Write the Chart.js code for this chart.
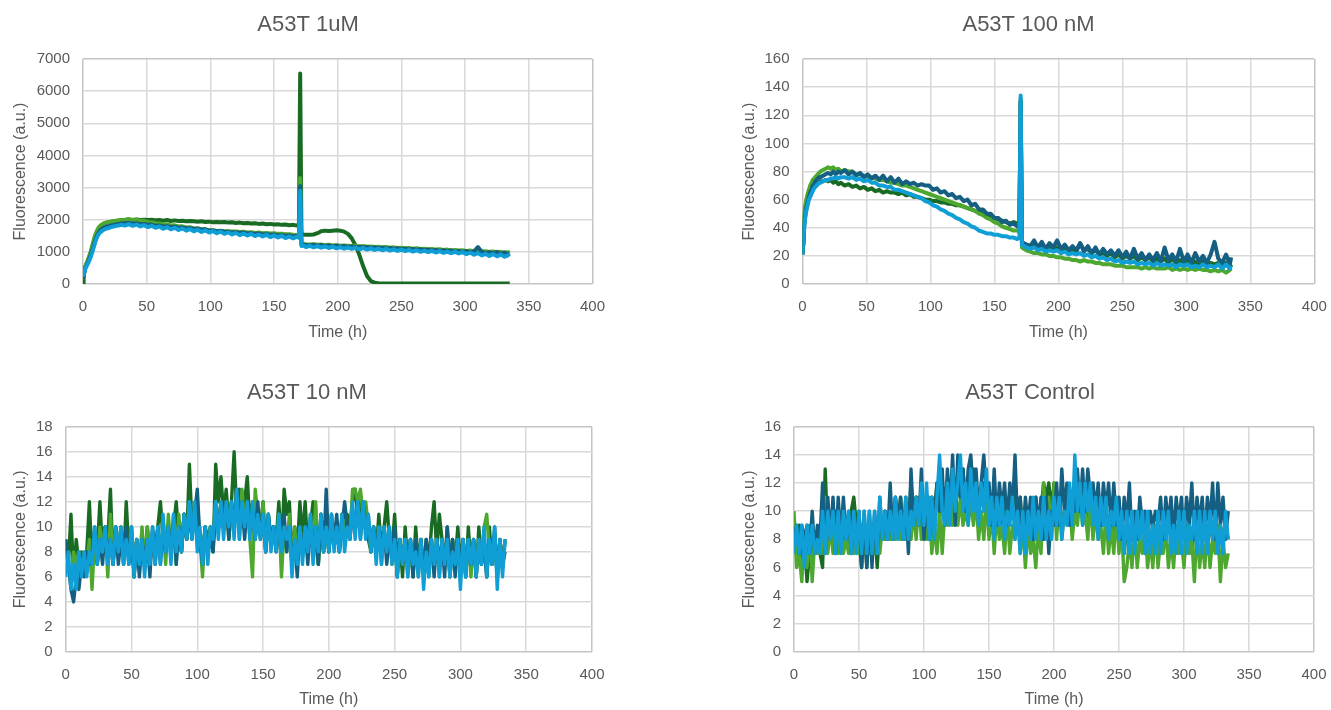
<!DOCTYPE html>
<html><head><meta charset="utf-8">
<script src="https://cdn.jsdelivr.net/npm/chart.js@4.4.1/dist/chart.umd.min.js"></script>
<style>
html,body{margin:0;padding:0;background:#fff;width:1331px;height:710px;overflow:hidden;position:relative}
.box{position:absolute}
</style></head><body>
<div class="box" style="left:0;top:0;width:616px;height:355px"><canvas id="c1"></canvas></div>
<div class="box" style="left:729px;top:0;width:599px;height:355px"><canvas id="c2"></canvas></div>
<div class="box" style="left:0;top:360px;width:614px;height:350px"><canvas id="c3"></canvas></div>
<div class="box" style="left:729px;top:360px;width:602px;height:350px"><canvas id="c4"></canvas></div>
<script>
// ---------- DATA ----------
const seriesNames = ['Series 1', 'Series 2', 'Series 3', 'Series 4'];
const chartTitles = ['A53T 1uM', 'A53T 100 nM', 'A53T 10 nM', 'A53T Control'];
const xTicks = [0, 50, 100, 150, 200, 250, 300, 350, 400];

const timeTop = [0,0.5,1,1.5,2,3,4,5,6,7,8,9,10,11,12,13,14,16,18,20,22,24,26,28,30,
 33,36,39,42,45,48,51,54,57,60,63,66,69,72,75,78,81,84,87,90,93,96,99,102,105,108,111,114,117,120,123,126,129,132,135,138,141,144,147,150,153,156,159,162,165,168,
 169.5,170.5,171.5,173,175,
 178,181,184,187,190,193,196,199,202,205,208,211,214,217,220,223,226,229,232,235,238,241,244,247,250,253,256,259,262,265,268,271,274,277,280,283,286,289,292,295,298,301,304,307,310,313,316,319,322,325,328,331,334,
 335];

const uM1_dkGreen = [0,350,430,500,560,650,740,850,970,1100,1250,1400,1520,1620,1700,1760,1810,1870,1900,1920,1940,1950,1960,1970,1980,
 1990,2000,1990,2010,1990,2000,1990,2000,1980,1990,1970,1990,1960,1980,1960,1970,1950,1960,1950,1940,1950,1930,1940,1920,1930,1920,1930,1910,1920,1900,1910,1890,1900,1880,1890,1870,1880,1860,1870,1850,1860,1840,1850,1830,1840,1820,
 1810,6550,1560,1540,1530,
 1530,1540,1580,1640,1660,1650,1660,1670,1660,1630,1560,1420,1200,900,550,250,90,40,25,15,
 12,15,12,14,12,15,13,12,14,12,15,12,13,12,14,12,15,12,13,12,14,12,15,12,13,12,14,12,15,12,13,12,14,
 12];
const uM1_ltGreen = [200,330,420,500,560,660,760,880,1000,1150,1300,1450,1570,1660,1740,1790,1830,1880,1910,1920,1940,1950,1970,1980,1990,
 2000,2020,1990,2000,1970,1965,1930,1925,1890,1885,1860,1855,1820,1825,1790,1795,1760,1765,1730,1735,1700,1705,1670,1675,1650,1660,1640,1645,1630,1635,1620,1625,1600,1610,1590,1600,1580,1590,1570,1580,1560,1565,1550,1550,1530,1525,
 1510,3300,1260,1250,1240,
 1230,1240,1220,1230,1210,1220,1200,1210,1190,1200,1190,1180,1190,1170,1180,1160,1170,1150,1160,1140,1150,1130,1140,1120,1130,1110,1120,1100,1110,1090,1100,1080,1090,1070,1080,1060,1070,1050,1060,1040,1050,1030,1040,1020,1030,1010,1020,1000,1010,990,1000,980,990,
 970];
const uM1_dkBlue = [220,300,380,440,500,590,680,780,890,1010,1140,1280,1400,1500,1580,1640,1690,1740,1780,1800,1820,1840,1850,1870,1880,
 1890,1900,1880,1890,1860,1870,1840,1850,1810,1820,1790,1800,1770,1780,1750,1760,1730,1740,1710,1720,1690,1700,1660,1670,1640,1650,1620,1630,1600,1610,1590,1600,1570,1580,1560,1570,1540,1550,1530,1540,1510,1520,1500,1510,1480,1490,
 1480,3050,1230,1220,1210,
 1200,1220,1190,1210,1180,1200,1170,1190,1160,1180,1150,1170,1140,1160,1130,1150,1120,1140,1110,1130,1100,1120,1090,1110,1080,1100,1070,1090,1060,1080,1050,1070,1040,1060,1030,1050,1020,1040,1000,1030,990,1020,980,1010,1150,1000,960,990,950,1000,930,980,920,
 940];
const uM1_ltBlue = [280,330,400,450,500,570,650,730,830,950,1080,1220,1350,1450,1530,1580,1620,1680,1720,1740,1770,1790,1810,1820,1840,
 1820,1860,1810,1850,1790,1830,1770,1810,1750,1790,1720,1770,1700,1750,1680,1730,1660,1710,1640,1690,1620,1670,1600,1650,1580,1630,1560,1610,1540,1590,1520,1570,1510,1560,1490,1540,1480,1530,1460,1510,1450,1500,1430,1480,1420,1470,
 1440,2900,1180,1200,1150,
 1190,1140,1180,1130,1170,1120,1160,1110,1150,1100,1140,1090,1130,1080,1120,1070,1110,1060,1100,1050,1090,1040,1080,1030,1070,1020,1060,1010,1050,1000,1040,990,1030,980,1020,970,1010,960,1000,950,990,930,980,910,960,890,940,870,930,860,920,850,900,
 880];

const nM100_dkGreen = [21,32,40,46,50,55,59,62,64,66,68,69,70,71,72,72,73,73,74,73,74,72,73,71,72,
 70,71,69,70,68,69,67,68,66,67,65,66,65,65,64,65,63,64,62,62,61,60,60,59,59,58,58,57,57,56,56,55,54,53,52,51,50,49,48,47,46,45,44,43,44,43,
 41,130,29,28,28,
 27,28,26,27,25,27,24,26,24,25,23,25,23,29,24,25,22,24,21,22,20,22,19,21,18,20,18,20,17,19,17,19,16,18,16,18,15,18,15,17,14,17,14,16,14,16,13,15,14,15,13,15,12,
 14];
const nM100_ltGreen = [22,36,46,52,55,60,64,67,70,72,74,75,76,77,78,79,80,81,82,83,82,83,81,82,80,
 81,80,80,78,78,77,76,76,75,74,74,73,72,72,71,70,70,69,68,67,66,65,64,63,62,61,60,59,58,57,56,55,54,53,52,50,49,47,46,44,43,41,40,39,38,38,
 37,132,26,25,24,
 23,22,22,21,21,20,20,19,19,18,18,17,17,16,17,16,16,15,15,14,14,14,13,13,13,12,12,12,12,11,12,11,12,11,11,11,12,10,11,10,11,10,11,10,11,10,10,9,10,9,10,8,10,
 9];
const nM100_dkBlue = [21,30,38,44,48,54,58,62,65,67,70,71,73,74,75,76,76,77,78,79,78,80,78,80,79,
 81,78,80,77,79,76,78,75,77,74,77,73,76,72,75,71,73,71,72,70,71,70,70,67,68,65,66,63,64,61,62,59,60,56,57,53,53,50,50,47,47,44,45,42,43,41,
 40,130,30,29,28,
 27,31,26,30,25,29,26,31,25,28,24,27,24,29,23,27,22,26,21,25,21,24,20,24,19,23,18,25,18,22,17,21,17,22,16,26,17,21,16,25,16,21,15,22,16,20,15,21,30,18,15,21,14,
 19];
const nM100_ltBlue = [21,28,35,41,46,52,56,60,62,64,66,68,69,70,71,72,72,73,74,74,75,75,76,75,76,
 76,75,76,74,75,73,74,72,72,70,70,69,69,67,67,66,65,64,63,62,61,59,58,56,55,53,52,50,49,47,46,44,43,41,40,38,37,36,36,35,35,34,34,33,33,32,
 33,134,28,27,26,
 25,26,24,25,23,24,23,24,22,23,21,22,21,22,20,21,19,20,18,19,17,18,16,17,15,16,15,16,14,15,14,15,13,15,13,14,13,14,12,14,13,14,12,13,12,14,12,13,12,14,11,14,11,
 13];

const timeBottom = [0,2,4,6,8,10,12,14,16,18,20,22,24,26,28,30,32,34,36,38,40,42,44,46,48,50,52,54,56,58,
 60,62,64,66,68,70,72,74,76,78,80,82,84,86,88,90,92,94,96,98,100,102,104,106,108,110,112,114,116,118,
 120,122,124,126,128,130,132,134,136,138,140,142,144,146,148,150,152,154,156,158,160,162,164,166,168,170,172,174,176,178,
 180,182,184,186,188,190,192,194,196,198,200,202,204,206,208,210,212,214,216,218,220,222,224,226,228,230,232,234,236,238,
 240,242,244,246,248,250,252,254,256,258,260,262,264,266,268,270,272,274,276,278,280,282,284,286,288,290,292,294,296,298,
 300,302,304,306,308,310,312,314,316,318,320,322,324,326,328,330,332,334];

const nM10_dkGreen = [9,7,11,6,9,7,8,7,8,12, 7,9,8,12,8,10,9,13,7,10, 8,10,7,12,8,10,6,9,7,9, 7,10,8,9,7,10,12,9,8,10,
 8,10,12,9,8,11,9,15,10,11, 10,9,8,10,9,10,8,15,12,14, 11,13,10,12,16,11,13,10,12,14, 10,12,9,11,10,12,8,11,9,10,
 9,12,8,13,11,12,7,10,8,12, 9,12,8,10,12,9,7,11,8,10, 8,11,9,10,8,11,9,11,10,12, 13,11,12,10,11,9,8,10,8,11,
 8,10,12,9,8,11,7,9,6,10, 7,9,6,10,7,9,6,9,7,10, 12,8,11,9,7,10,6,9,7,10, 7,9,6,10,7,9,6,10,7,9, 6,10,7,9,6,9,7,9];
const nM10_ltGreen = [8,7,6,8,7,8,6,8,7,9, 5,9,7,10,8,10,6,11,7,10, 8,10,7,9,8,10,7,9,7,10, 7,10,8,9,7,10,8,10,7,11,
 8,10,7,11,8,11,9,12,10,11, 12,9,6,10,8,10,9,12,10,12, 10,12,9,12,10,12,9,13,10,12, 9,6,13,11,9,12,8,11,9,10,
 8,11,6,10,8,11,7,10,7,10, 8,10,8,11,8,12,7,10,8,10, 8,11,9,10,8,11,9,10,9,13, 13,12,13,11,12,10,8,10,8,10,
 7,10,8,10,7,9,6,9,7,9, 6,9,7,9,6,9,7,8,6,9, 7,9,6,9,7,9,6,9,7,9, 6,9,7,9,6,9,7,9,7,10, 11,8,7,9,6,9,7,9];
const nM10_dkBlue = [9,7,5,4,6,5,7,6,8,7, 8,10,7,9,7,10,8,9,7,10, 7,9,8,10,7,9,6,9,6,9, 7,9,6,10,8,10,7,10,8,10,
 8,11,7,10,8,11,9,11,9,11, 13,9,7,10,8,9,8,11,10,12, 10,12,9,12,10,13,10,12,9,12, 10,11,9,12,9,11,8,11,9,10,
 8,10,9,11,8,10,7,9,6,10, 8,10,7,10,8,10,7,11,8,13, 8,10,9,11,8,10,12,10,9,11, 10,12,9,12,10,11,8,10,8,10,
 8,10,7,9,8,10,6,9,7,9, 7,9,6,9,7,9,6,9,7,9, 6,9,7,9,6,10,7,9,6,9, 7,9,6,9,7,9,6,9,7,9, 6,9,7,10,6,9,7,8];
const nM10_ltBlue = [6,8,5,7,5,8,6,8,6,8, 7,10,7,9,8,10,7,9,7,10, 8,10,7,9,7,10,6,9,7,9, 6,9,7,10,7,10,7,11,8,10,
 7,11,8,10,8,11,9,12,9,12, 8,10,7,10,7,10,9,12,9,12, 9,12,10,12,9,13,9,12,10,12, 9,12,9,11,9,11,8,11,8,10,
 8,11,8,10,9,10,6,9,7,10, 7,10,8,11,7,10,8,11,8,10, 8,11,8,10,8,11,8,10,9,12, 9,12,9,12,9,11,8,10,7,10,
 7,10,8,10,7,9,6,9,7,9, 6,9,7,8,6,9,5,8,6,9, 7,9,6,9,7,9,6,8,7,9, 5,9,6,9,7,9,6,9,7,10, 6,9,7,10,5,9,6,9];

const ctrl_dkGreen = [8,7,9,6,8,5,7,8,7,8, 7,6,13,8,9,8,10,8,9,8, 9,8,10,11,9,8,6,9,6,9, 7,9,6,9,8,10,8,10,9,11,
 9,11,8,10,9,12,10,11,10,11, 9,10,9,11,10,12,10,12,10,12, 11,13,10,12,11,13,10,12,11,13, 12,10,11,12,10,11,9,11,9,10,
 9,11,9,11,10,12,9,11,8,10, 9,10,9,11,8,10,12,11,12,10, 12,9,11,9,10,10,11,9,11,10, 11,10,12,9,11,9,10,9,10,9,
 10,9,10,8,10,8,9,7,9,8, 9,7,9,8,10,8,9,7,9,8, 9,7,9,8,10,8,9,7,9,8, 9,8,9,7,9,8,9,8,9,8, 9,8,9,7,9,8,9,8];
const ctrl_ltGreen = [10,6,7,5,8,6,9,5,8,7, 8,7,11,7,9,7,8,7,9,7, 8,7,9,7,8,7,9,7,8,7, 9,7,8,7,9,8,9,8,10,8,
 9,8,10,8,9,8,10,8,11,8, 10,8,11,7,9,7,10,7,10,9, 11,9,12,9,11,9,10,9,11,9, 11,8,10,8,11,8,10,7,10,8,
 9,7,10,7,9,8,10,7,9,6, 9,7,8,6,9,7,12,9,11,8, 12,8,11,8,10,9,11,8,10,9, 11,9,10,8,11,8,10,8,9,7,
 10,7,9,7,10,7,9,5,6,8, 6,9,6,8,7,9,6,8,6,9, 6,8,7,9,6,8,6,9,7,8, 6,9,7,8,5,9,6,8,6,9, 6,8,7,9,5,8,6,7];
const ctrl_dkBlue = [8,9,7,9,8,9,7,10,7,9, 8,12,7,11,8,11,7,11,8,11, 8,10,7,10,8,10,6,10,6,10, 6,10,7,11,8,10,8,12,8,11,
 9,11,8,11,7,13,9,11,9,13, 8,11,8,11,9,12,10,13,9,13, 10,14,9,14,11,13,10,13,14,11, 13,10,12,14,11,12,9,13,9,12,
 10,12,9,12,10,14,9,11,8,11, 9,11,8,11,9,11,8,11,7,10, 9,12,9,13,10,12,9,11,10,13, 10,13,10,13,11,12,10,12,9,12,
 10,12,9,12,9,11,8,11,9,12, 8,10,8,11,9,10,8,10,9,10, 9,11,8,11,9,11,8,11,9,11, 8,11,9,12,8,11,9,11,8,11, 9,12,8,12,9,11,8,10];
const ctrl_ltBlue = [7,9,7,9,6,9,7,9,7,8, 7,10,7,10,8,10,7,10,7,10, 8,10,7,10,7,10,7,10,7,10, 7,10,7,11,8,10,8,10,8,11,
 8,10,8,11,8,10,9,11,9,12, 9,12,8,11,8,11,14,10,9,12, 9,13,10,12,14,10,12,9,13,10, 12,9,12,10,13,9,11,8,11,9,
 11,8,10,9,11,8,10,7,10,7, 10,8,11,8,10,8,11,8,10,8, 11,9,11,8,10,9,12,9,14,10, 12,9,12,10,12,9,11,8,11,9,
 11,8,10,9,11,8,10,7,10,7, 10,7,10,8,10,7,10,7,9,7, 10,7,10,8,10,7,9,7,10,7, 10,7,9,8,10,7,10,7,10,7, 10,8,10,7,9,7,10,8];

// ---------- STYLE ----------
const FONT = "'Liberation Sans', Arial, sans-serif";
const TXT = '#595959';
const COLORS = ['#196B24', '#4EA72E', '#156082', '#0F9ED5'];

function pts(times, vals) { return times.map((t, i) => ({ x: t, y: vals[i] })); }

function makeChart(id, title, times, series, yMax, yStep, g) {
  const datasets = series.map((vals, k) => ({
    label: seriesNames[k],
    data: pts(times, vals),
    borderColor: COLORS[k],
    backgroundColor: COLORS[k],
    borderWidth: g.lw,
    borderJoinStyle: 'round',
    pointRadius: 0,
    tension: 0,
    fill: false,
    yAxisID: 'y',
    order: 3 - k
  }));
  const gridCol = (max) => (ctx) => (ctx.tick && (ctx.tick.value === 0 || ctx.tick.value === max)) ? '#c4c4c4' : '#d9d9d9';
  new Chart(document.getElementById(id), {
    type: 'line',
    data: { datasets },
    options: {
      responsive: true, maintainAspectRatio: false, animation: false,
      layout: { padding: 0 },
      plugins: {
        legend: { display: false }, tooltip: { enabled: false },
        title: { display: true, text: title, color: TXT, font: { family: FONT, size: 22, weight: 'normal' },
                 padding: { top: g.tTop, bottom: g.tBot } }
      },
      scales: {
        x: {
          type: 'linear', min: 0, max: 400,
          afterBuildTicks: (s) => { s.ticks = xTicks.map(v => ({ value: v })); },
          ticks: { color: TXT, font: { family: FONT, size: 15, lineHeight: 3.05 }, padding: 0, maxRotation: 0 },
          grid: { color: gridCol(400), lineWidth: 1.5, drawTicks: false },
          border: { display: false },
          title: { display: true, text: 'Time (h)', color: TXT, font: { family: FONT, size: 16 }, padding: { top: 0, bottom: g.xtPad } },
          afterFit: (s) => { s.height = g.xH; }
        },
        y: {
          type: 'linear', position: 'left', min: 0, max: yMax,
          ticks: { stepSize: yStep, color: TXT, font: { family: FONT, size: 15 }, padding: 13,
                   callback: (v) => String(v) },
          grid: { color: gridCol(yMax), lineWidth: 1.5, drawTicks: false },
          border: { display: false },
          title: { display: true, text: 'Fluorescence (a.u.)', color: TXT, font: { family: FONT, size: 16 }, padding: { top: 11, bottom: 0 } },
          afterFit: (s) => { s.width = g.yW; }
        },
        yR: {
          type: 'linear', position: 'right', min: 0, max: 1, display: true,
          grid: { display: false, drawOnChartArea: false, drawTicks: false },
          border: { display: false },
          ticks: { display: false },
          afterFit: (s) => { s.width = g.R; }
        }
      }
    }
  });
}

const topGeom = { tTop: 11.8, tBot: 20.8, xH: 71, xtPad: 12.4, lw: 4 };
const botGeom = { tTop: 19.8, tBot: 20.5, xH: 58, xtPad: 1.2, lw: 3.4 };

makeChart('c1', chartTitles[0], timeTop, [uM1_dkGreen, uM1_ltGreen, uM1_dkBlue, uM1_ltBlue], 7000, 1000,
  Object.assign({}, topGeom, { yW: 83, R: 23.5 }));
makeChart('c2', chartTitles[1], timeTop, [nM100_dkGreen, nM100_ltGreen, nM100_dkBlue, nM100_ltBlue], 160, 20,
  Object.assign({}, topGeom, { yW: 73.5, R: 13.7 }));
makeChart('c3', chartTitles[2], timeBottom, [nM10_dkGreen, nM10_ltGreen, nM10_dkBlue, nM10_ltBlue], 18, 2,
  Object.assign({}, botGeom, { yW: 65.7, R: 22 }));
makeChart('c4', chartTitles[3], timeBottom, [ctrl_dkGreen, ctrl_ltGreen, ctrl_dkBlue, ctrl_ltBlue], 16, 2,
  Object.assign({}, botGeom, { yW: 65, R: 17 }));
</script>
</body></html>
